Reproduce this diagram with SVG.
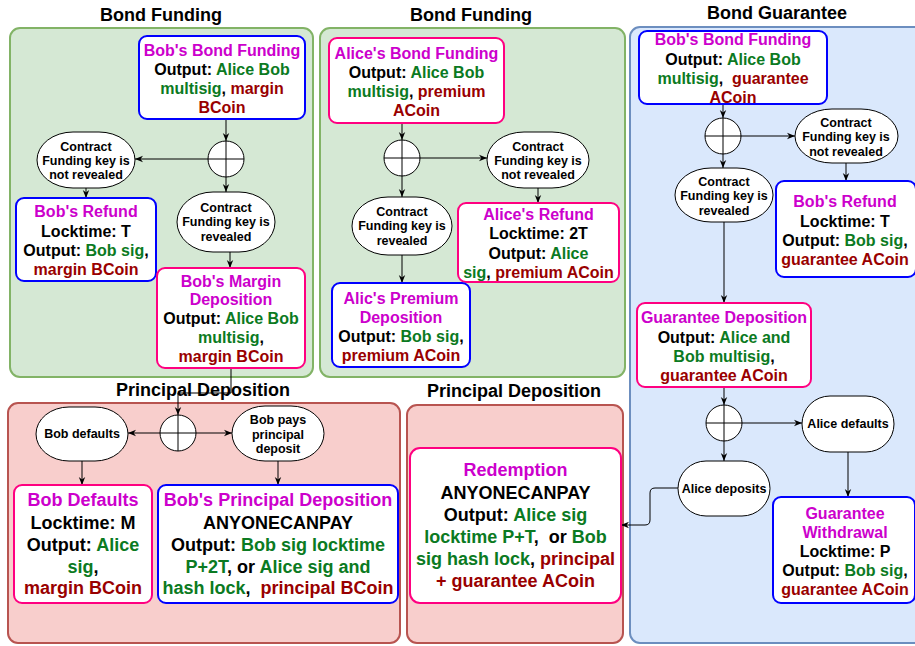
<svg xmlns="http://www.w3.org/2000/svg" width="915" height="646" viewBox="0 0 915 646">
<defs>
<style>
text{font-family:"Liberation Sans",Arial,sans-serif;font-weight:bold;text-anchor:middle;fill:#000;white-space:pre}
.f18{font-size:18px}.f16{font-size:16px}.f12{font-size:12.5px}.f125{font-size:12.5px}
.m{fill:#CC00CC}.g{fill:#0B7A22}.r{fill:#990000}
.bb{fill:#fff;stroke:#0000FF;stroke-width:2}
.pb{fill:#fff;stroke:#FF0080;stroke-width:2}
.el{fill:#fff;stroke:#000;stroke-width:1}
.gc{fill:#d5e8d4;stroke:#82b366;stroke-width:2}
.bc{fill:#dae8fc;stroke:#6c8ebf;stroke-width:2}
.rc{fill:#f8cecc;stroke:#b85450;stroke-width:2}
.cn{fill:none;stroke:#000;stroke-width:1;marker-end:url(#arr)}
.x{fill:#fff;stroke:#000;stroke-width:1}
</style>
<marker id="arr" viewBox="0 0 10 10" refX="10" refY="5" markerWidth="8" markerHeight="8" orient="auto" markerUnits="userSpaceOnUse"><path d="M0,1 L10,5 L0,9 L3,5 z" fill="#000"/></marker>
</defs>

<g id="containers">
<rect class="gc" x="10" y="28" width="303" height="349" rx="10"/>
<rect class="gc" x="320" y="28" width="305" height="349" rx="10"/>
<rect class="bc" x="630" y="27" width="295" height="616" rx="10"/>
<rect class="rc" x="8" y="403" width="392" height="240" rx="10"/>
<rect class="rc" x="407" y="405" width="216" height="238" rx="10"/>
</g>

<g id="titles">
<text class="f18" x="161" y="21">Bond Funding</text>
<text class="f18" x="471" y="21">Bond Funding</text>
<text class="f18" x="777" y="19">Bond Guarantee</text>
<text class="f18" x="203" y="396">Principal Deposition</text>
<text class="f18" x="514" y="397">Principal Deposition</text>
</g>

<g id="connectors">
<path class="cn" d="M226,119 V141"/>
<path class="cn" d="M208,159 H135"/>
<path class="cn" d="M226,177 V192"/>
<path class="cn" d="M86,188 V198"/>
<path class="cn" d="M230,252 V268"/>
<path class="cn" d="M231,368 V393 H178 V415"/>
<path class="cn" d="M160,433 H128"/>
<path class="cn" d="M196,433 H232"/>
<path class="cn" d="M82,461 V485"/>
<path class="cn" d="M278,461 V485"/>
<path class="cn" d="M416,123 H402 V140"/>
<path class="cn" d="M420,158 H487"/>
<path class="cn" d="M402,176 V197"/>
<path class="cn" d="M538,188 V203"/>
<path class="cn" d="M402,255 V283"/>
<path class="cn" d="M723,104 V118"/>
<path class="cn" d="M741,136 H795"/>
<path class="cn" d="M723,154 V168"/>
<path class="cn" d="M846,163 V181"/>
<path class="cn" d="M724,222 V303"/>
<path class="cn" d="M724,387 V405"/>
<path class="cn" d="M742,423 H802"/>
<path class="cn" d="M724,441 V461"/>
<path class="cn" d="M848,452 V497"/>
<path class="cn" d="M678,488 H655 Q650,488 650,493 V520 Q650,525 645,525 H621"/>
</g>

<g id="xor1"><circle class="x" cx="226" cy="159" r="18"/><path d="M208,159 H244 M226,141 V177" stroke="#000"/></g>
<g id="xor2"><circle class="x" cx="402" cy="158" r="18"/><path d="M384,158 H420 M402,140 V176" stroke="#000"/></g>
<g id="xor3"><circle class="x" cx="723" cy="136" r="18"/><path d="M705,136 H741 M723,118 V154" stroke="#000"/></g>
<g id="xor4"><circle class="x" cx="724" cy="423" r="18"/><path d="M706,423 H742 M724,405 V441" stroke="#000"/></g>
<g id="xor5"><circle class="x" cx="178" cy="433" r="18"/><path d="M160,433 H196 M178,415 V451" stroke="#000"/></g>

<g id="bobBondFunding1">
<rect class="bb" x="139" y="36" width="166" height="83" rx="8"/>
<text class="f16" x="222" y="56"><tspan class="m">Bob's Bond Funding</tspan></text>
<text class="f16" x="222" y="75">Output: <tspan class="g">Alice Bob</tspan></text>
<text class="f16" x="222" y="94"><tspan class="g">multisig</tspan>, <tspan class="r">margin</tspan></text>
<text class="f16" x="222" y="113"><tspan class="r">BCoin</tspan></text>
</g>
<g id="notRevealed1">
<rect class="el" x="37" y="132" width="98" height="56" rx="36" ry="28"/>
<text class="f12" x="86" y="151">Contract</text>
<text class="f12" x="86" y="165">Funding key is</text>
<text class="f12" x="86" y="179">not revealed</text>
</g>
<g id="revealed1">
<rect class="el" x="177" y="192" width="98" height="60" rx="36" ry="30"/>
<text class="f12" x="226" y="212">Contract</text>
<text class="f12" x="226" y="226">Funding key is</text>
<text class="f12" x="226" y="241">revealed</text>
</g>
<g id="bobRefund1">
<rect class="bb" x="16" y="198" width="140" height="83" rx="8"/>
<text class="f16" x="86" y="217"><tspan class="m">Bob's Refund</tspan></text>
<text class="f16" x="86" y="237">Locktime: T</text>
<text class="f16" x="86" y="256">Output: <tspan class="g">Bob sig</tspan>,</text>
<text class="f16" x="86" y="275"><tspan class="r">margin BCoin</tspan></text>
</g>
<g id="bobMarginDeposition">
<rect class="pb" x="157" y="268" width="148" height="100" rx="8"/>
<text class="f16" x="231" y="287"><tspan class="m">Bob's Margin</tspan></text>
<text class="f16" x="231" y="305"><tspan class="m">Deposition</tspan></text>
<text class="f16" x="231" y="324">Output: <tspan class="g">Alice Bob</tspan></text>
<text class="f16" x="231" y="343"><tspan class="g">multisig</tspan>,</text>
<text class="f16" x="231" y="362"><tspan class="r">margin BCoin</tspan></text>
</g>

<g id="aliceBondFunding">
<rect class="pb" x="329" y="38" width="175" height="85" rx="8"/>
<text class="f16" x="416.5" y="59"><tspan class="m">Alice's Bond Funding</tspan></text>
<text class="f16" x="416.5" y="78">Output: <tspan class="g">Alice Bob</tspan></text>
<text class="f16" x="416.5" y="97"><tspan class="g">multisig</tspan>, <tspan class="r">premium</tspan></text>
<text class="f16" x="416.5" y="116"><tspan class="r">ACoin</tspan></text>
</g>
<g id="notRevealed2">
<rect class="el" x="487" y="132" width="102" height="56" rx="37" ry="28"/>
<text class="f12" x="538" y="151">Contract</text>
<text class="f12" x="538" y="165">Funding key is</text>
<text class="f12" x="538" y="179">not revealed</text>
</g>
<g id="revealed2">
<rect class="el" x="352" y="197" width="100" height="58" rx="36" ry="29"/>
<text class="f12" x="402" y="216">Contract</text>
<text class="f12" x="402" y="230">Funding key is</text>
<text class="f12" x="402" y="245">revealed</text>
</g>
<g id="aliceRefund">
<rect class="pb" x="458" y="203" width="161" height="79" rx="8"/>
<text class="f16" x="538.5" y="220"><tspan class="m">Alice's Refund</tspan></text>
<text class="f16" x="538.5" y="239">Locktime: 2T</text>
<text class="f16" x="538.5" y="259">Output: <tspan class="g">Alice</tspan></text>
<text class="f16" x="538.5" y="278"><tspan class="g">sig</tspan>, <tspan class="r">premium ACoin</tspan></text>
</g>
<g id="alicPremiumDeposition">
<rect class="bb" x="332" y="283" width="138" height="84" rx="8"/>
<text class="f16" x="401" y="304"><tspan class="m">Alic's Premium</tspan></text>
<text class="f16" x="401" y="323"><tspan class="m">Deposition</tspan></text>
<text class="f16" x="401" y="342">Output: <tspan class="g">Bob sig</tspan>,</text>
<text class="f16" x="401" y="361"><tspan class="r">premium ACoin</tspan></text>
</g>

<g id="bobBondFunding2">
<rect class="bb" x="639" y="31" width="188" height="73" rx="8"/>
<text class="f16" x="733" y="45"><tspan class="m">Bob's Bond Funding</tspan></text>
<text class="f16" x="733" y="65">Output: <tspan class="g">Alice Bob</tspan></text>
<text class="f16" x="733" y="84"><tspan class="g">multisig</tspan>,  <tspan class="r">guarantee</tspan></text>
<text class="f16" x="733" y="103"><tspan class="r">ACoin</tspan></text>
</g>
<g id="notRevealed3">
<rect class="el" x="795" y="109" width="103" height="54" rx="37" ry="27"/>
<text class="f12" x="846" y="127">Contract</text>
<text class="f12" x="846" y="141">Funding key is</text>
<text class="f12" x="846" y="156">not revealed</text>
</g>
<g id="revealed3">
<rect class="el" x="675" y="168" width="98" height="54" rx="36" ry="27"/>
<text class="f12" x="724" y="186">Contract</text>
<text class="f12" x="724" y="200">Funding key is</text>
<text class="f12" x="724" y="215">revealed</text>
</g>
<g id="bobRefund2">
<rect class="bb" x="776" y="181" width="140" height="96" rx="8"/>
<text class="f16" x="845" y="207"><tspan class="m">Bob's Refund</tspan></text>
<text class="f16" x="845" y="227">Locktime: T</text>
<text class="f16" x="845" y="246">Output: <tspan class="g">Bob sig</tspan>,</text>
<text class="f16" x="845" y="265"><tspan class="r">guarantee ACoin</tspan></text>
</g>
<g id="guaranteeDeposition">
<rect class="pb" x="637" y="303" width="174" height="84" rx="8"/>
<text class="f16" x="724" y="323"><tspan class="m">Guarantee Deposition</tspan></text>
<text class="f16" x="724" y="343">Output: <tspan class="g">Alice and</tspan></text>
<text class="f16" x="724" y="362"><tspan class="g">Bob multisig</tspan>,</text>
<text class="f16" x="724" y="381"><tspan class="r">guarantee ACoin</tspan></text>
</g>
<g id="aliceDefaults">
<rect class="el" x="802" y="396" width="92" height="56" rx="28" ry="28"/>
<text class="f125" x="848" y="428">Alice defaults</text>
</g>
<g id="aliceDeposits">
<rect class="el" x="678" y="461" width="92" height="55" rx="28" ry="27.5"/>
<text class="f125" x="724" y="493">Alice deposits</text>
</g>
<g id="guaranteeWithdrawal">
<rect class="bb" x="773" y="497" width="142" height="106" rx="8"/>
<text class="f16" x="845" y="519"><tspan class="m">Guarantee</tspan></text>
<text class="f16" x="845" y="538"><tspan class="m">Withdrawal</tspan></text>
<text class="f16" x="845" y="557">Locktime: P</text>
<text class="f16" x="845" y="576">Output: <tspan class="g">Bob sig</tspan>,</text>
<text class="f16" x="845" y="595"><tspan class="r">guarantee ACoin</tspan></text>
</g>

<g id="bobDefaultsEllipse">
<rect class="el" x="36" y="407" width="92" height="54" rx="33" ry="27"/>
<text class="f125" x="82" y="438">Bob defaults</text>
</g>
<g id="bobPays">
<rect class="el" x="232" y="406" width="92" height="55" rx="33" ry="27.5"/>
<text class="f125" x="278" y="424">Bob pays</text>
<text class="f125" x="278" y="439">principal</text>
<text class="f125" x="278" y="453">deposit</text>
</g>
<g id="bobDefaults">
<rect class="pb" x="14" y="485" width="138" height="118" rx="8"/>
<text class="f18" x="83" y="506"><tspan class="m">Bob Defaults</tspan></text>
<text class="f18" x="83" y="529">Locktime: M</text>
<text class="f18" x="83" y="551">Output: <tspan class="g">Alice</tspan></text>
<text class="f18" x="83" y="573"><tspan class="g">sig</tspan>,</text>
<text class="f18" x="83" y="594"><tspan class="r">margin BCoin</tspan></text>
</g>
<g id="bobPrincipalDeposition">
<rect class="bb" x="158" y="485" width="240" height="118" rx="8"/>
<text class="f18" x="278" y="506"><tspan class="m">Bob's Principal Deposition</tspan></text>
<text class="f18" x="278" y="529">ANYONECANPAY</text>
<text class="f18" x="278" y="551">Output: <tspan class="g">Bob sig locktime</tspan></text>
<text class="f18" x="278" y="573"><tspan class="g">P+2T</tspan>, or <tspan class="g">Alice sig and</tspan></text>
<text class="f18" x="278" y="594"><tspan class="g">hash lock</tspan>,  <tspan class="r">principal BCoin</tspan></text>
</g>

<g id="redemption">
<rect class="pb" x="410" y="448" width="211" height="155" rx="10"/>
<text class="f18" x="515.5" y="476"><tspan class="m">Redemption</tspan></text>
<text class="f18" x="515.5" y="499">ANYONECANPAY</text>
<text class="f18" x="515.5" y="521">Output: <tspan class="g">Alice sig</tspan></text>
<text class="f18" x="515.5" y="543"><tspan class="g">locktime P+T</tspan>,  or <tspan class="g">Bob</tspan></text>
<text class="f18" x="515.5" y="565"><tspan class="g">sig hash lock</tspan>, <tspan class="r">principal</tspan></text>
<text class="f18" x="515.5" y="587"><tspan class="r">+ guarantee ACoin</tspan></text>
</g>
</svg>
